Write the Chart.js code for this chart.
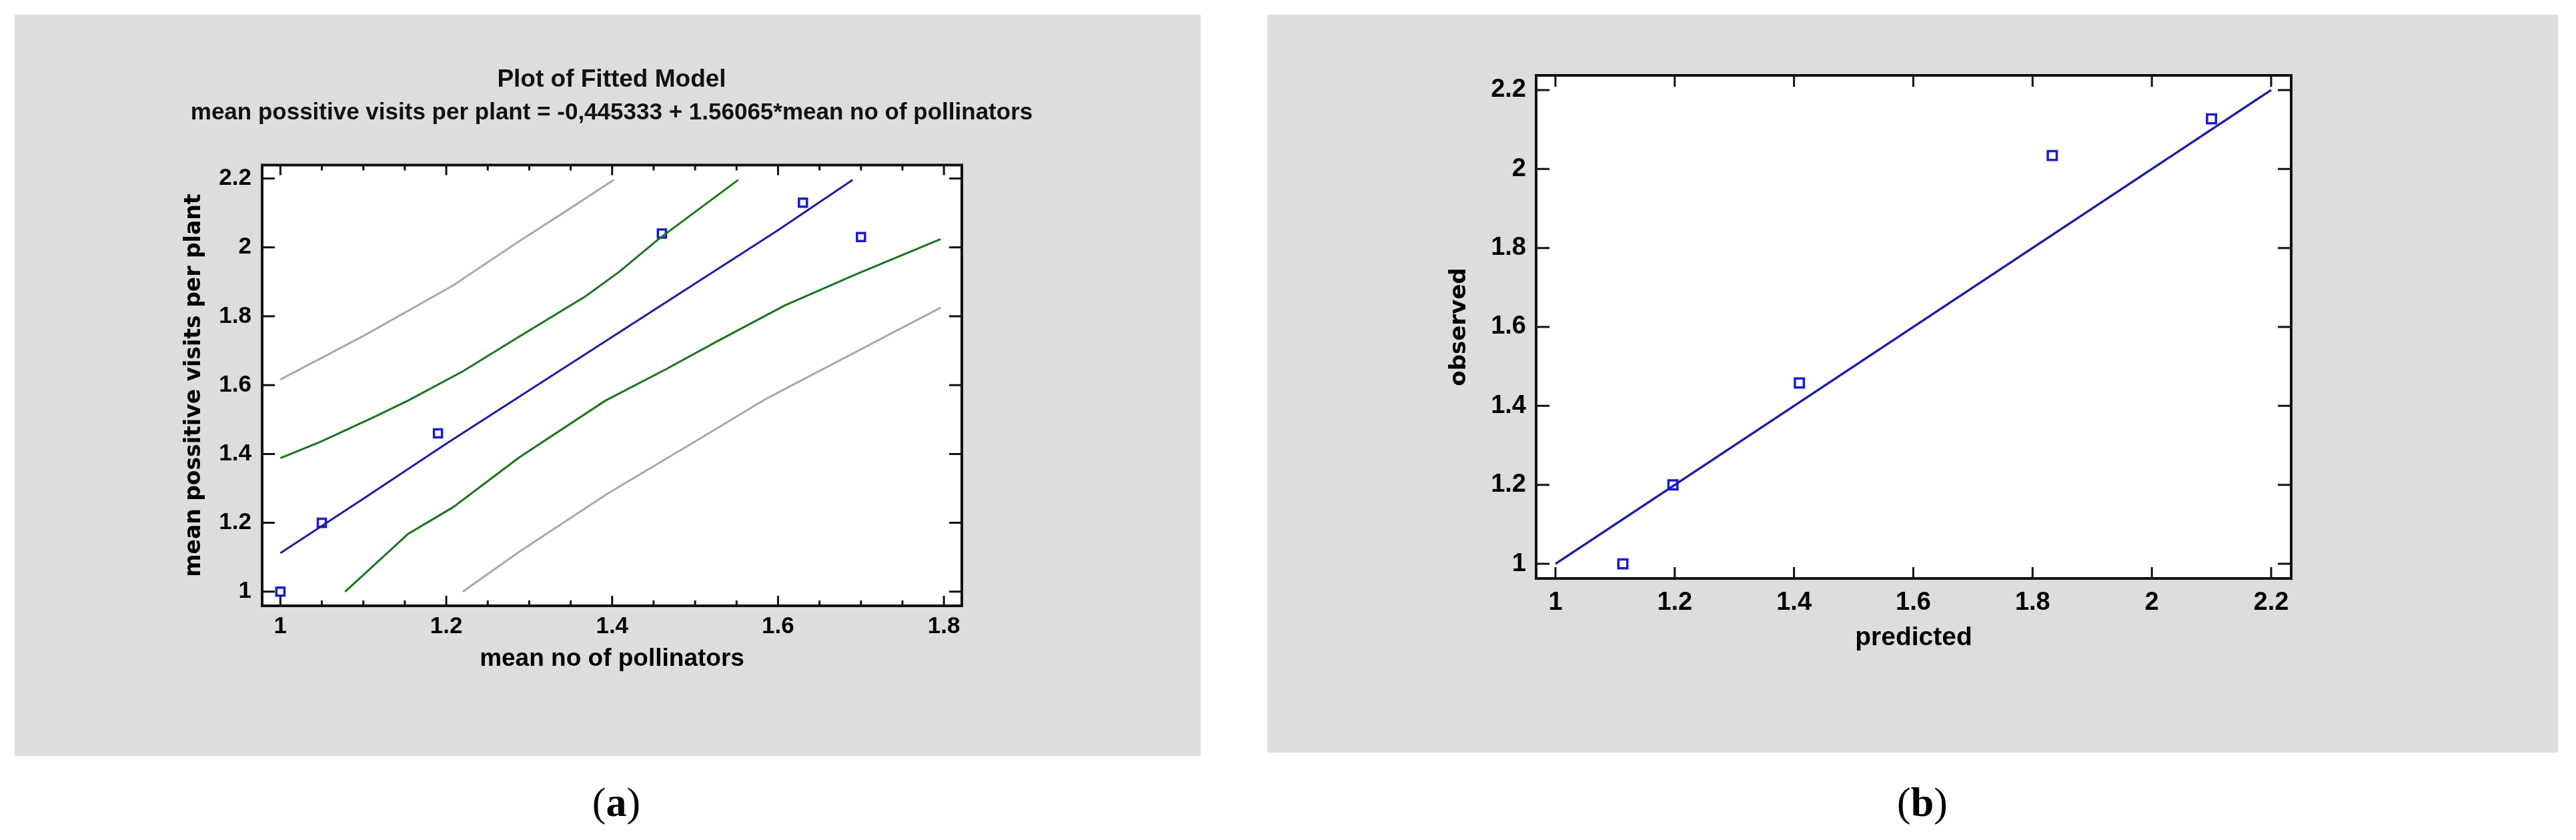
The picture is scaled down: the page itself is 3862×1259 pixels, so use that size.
<!DOCTYPE html>
<html>
<head>
<meta charset="utf-8">
<script src="https://cdn.jsdelivr.net/npm/chart.js@4.4.1/dist/chart.umd.min.js"></script>
<style>
    html, body { margin: 0; padding: 0; background: #fff; }
    body { width: 3862px; height: 1259px; position: relative; overflow: hidden; }
    .panel { position: absolute; background: #dddddd; }
    #panelA { left: 22px; top: 22px; width: 1778px; height: 1111px; }
    #panelB { left: 1900px; top: 22px; width: 1935px; height: 1106px; }
    .cap {
        position: absolute; top: 1168px; line-height: 68px;
        font-family: "Liberation Serif", serif; font-size: 62px; color: #000;
        transform: translateX(-50%);
    }
</style>
</head>
<body>
<div class="panel" id="panelA"><canvas id="chartA" width="1778" height="1111"></canvas></div>
<div class="panel" id="panelB"><canvas id="chartB" width="1935" height="1106"></canvas></div>
<div class="cap" style="left:924px">(<b>a</b>)</div>
<div class="cap" style="left:2882px">(<b>b</b>)</div>

<script>
// (a) observations
const pollinators = [1.0, 1.05, 1.19, 1.46, 1.63, 1.70];
const visits = [1.0, 1.2, 1.46, 2.04, 2.13, 2.03];

// (a) fitted line and limits
const fitX = [1.0, 1.1, 1.2, 1.3, 1.4, 1.5, 1.6, 1.69];
const fitY = [1.112, 1.27, 1.43, 1.585, 1.74, 1.895, 2.05, 2.196];
const confUpX = [1.0, 1.048, 1.112, 1.154, 1.22, 1.288, 1.368, 1.408, 1.456, 1.5, 1.552];
const confUpY = [1.388, 1.435, 1.506, 1.555, 1.64, 1.741, 1.858, 1.928, 2.024, 2.103, 2.196];
const confLoX = [1.078, 1.154, 1.208, 1.288, 1.392, 1.464, 1.528, 1.608, 1.694, 1.796];
const confLoY = [1.0, 1.168, 1.245, 1.39, 1.555, 1.645, 1.729, 1.831, 1.922, 2.024];
const predUpX = [1.0, 1.101, 1.208, 1.288, 1.341, 1.402];
const predUpY = [1.616, 1.744, 1.889, 2.018, 2.1, 2.196];
const predLoX = [1.22, 1.288, 1.394, 1.502, 1.584, 1.704, 1.796];
const predLoY = [1.0, 1.116, 1.284, 1.439, 1.558, 1.709, 1.825];

// (b) observed vs predicted
const predicted = [1.113, 1.197, 1.409, 1.833, 2.1];
const observed = [1.0, 1.2, 1.458, 2.034, 2.127];
const diagX = [1.0, 2.2];
const diagY = [1.0, 2.2];

// tick values
const xTicksA = [1, 1.2, 1.4, 1.6, 1.8];
const xMinorA = [1.05, 1.1, 1.15, 1.25, 1.3, 1.35, 1.45, 1.5, 1.55, 1.65, 1.7, 1.75];
const yTicksA = [1, 1.2, 1.4, 1.6, 1.8, 2, 2.2];
const xTicksB = [1, 1.2, 1.4, 1.6, 1.8, 2, 2.2];
const yTicksB = [1, 1.2, 1.4, 1.6, 1.8, 2, 2.2];

const zip = (xs, ys) => xs.map((x, i) => ({ x, y: ys[i] }));

Chart.defaults.font.family = '"Liberation Sans", Arial, sans-serif';
Chart.defaults.color = "#000";

// white plot area, black frame, ticks pointing inwards on all four sides
const framePlugin = {
    id: "frame",
    beforeDraw(chart) {
        const { ctx, chartArea: a } = chart;
        ctx.save();
        ctx.fillStyle = "#fff";
        ctx.fillRect(a.left, a.top, a.right - a.left, a.bottom - a.top);
        ctx.restore();
    },
    afterDraw(chart, args, opts) {
        const { ctx, chartArea: a } = chart;
        const x = chart.scales.x;
        const y = chart.scales.y;
        ctx.save();
        ctx.strokeStyle = "#111";
        ctx.lineWidth = opts.tickWidth;
        ctx.beginPath();
        for (const t of x.ticks) {
            const px = x.getPixelForValue(t.value);
            ctx.moveTo(px, a.bottom);
            ctx.lineTo(px, a.bottom - opts.xMajor);
            ctx.moveTo(px, a.top);
            ctx.lineTo(px, a.top + opts.xMajor);
        }
        for (const v of opts.minorX || []) {
            const px = x.getPixelForValue(v);
            ctx.moveTo(px, a.bottom);
            ctx.lineTo(px, a.bottom - opts.xMinor);
            ctx.moveTo(px, a.top);
            ctx.lineTo(px, a.top + opts.xMinor);
        }
        for (const t of y.ticks) {
            const py = y.getPixelForValue(t.value);
            ctx.moveTo(a.left, py);
            ctx.lineTo(a.left + opts.yMajor, py);
            ctx.moveTo(a.right, py);
            ctx.lineTo(a.right - opts.yMajor, py);
        }
        ctx.stroke();
        ctx.lineWidth = opts.frameWidth;
        ctx.strokeRect(a.left, a.top, a.right - a.left, a.bottom - a.top);
        ctx.restore();
    },
};

function fixedTicks(values) {
    return (scale) => {
        scale.ticks = values.map((v) => ({ value: v }));
    };
}

function lineSet(label, data, color, width) {
    return {
        label,
        data,
        showLine: true,
        borderColor: color,
        borderWidth: width,
        pointRadius: 0,
        tension: 0,
        fill: false,
    };
}

new Chart(document.getElementById("chartA"), {
    type: "scatter",
    data: {
        datasets: [
            lineSet("lower prediction limit", zip(predLoX, predLoY), "#a9a9a9", 3),
            lineSet("upper prediction limit", zip(predUpX, predUpY), "#a9a9a9", 3),
            lineSet("lower confidence limit", zip(confLoX, confLoY), "#1b741b", 3),
            lineSet("upper confidence limit", zip(confUpX, confUpY), "#1b741b", 3),
            lineSet("fitted model", zip(fitX, fitY), "#1c1ca6", 3),
            {
                label: "observations",
                data: zip(pollinators, visits),
                pointStyle: "rect",
                pointRadius: 8.5,
                borderWidth: 3.5,
                borderColor: "#1a1ad0",
                backgroundColor: "rgba(0,0,0,0)",
            },
        ],
    },
    options: {
        responsive: false,
        animation: false,
        // a blank right-hand axis as wide as the margin keeps the titles centred over the plot
        layout: { padding: { left: 220, right: 208, top: 0, bottom: 0 } },
        scales: {
            x: {
                type: "linear",
                min: 0.978,
                max: 1.8216,
                afterBuildTicks: fixedTicks(xTicksA),
                afterFit: (s) => { s.height = 225; },
                grid: { display: false, drawTicks: false },
                border: { display: false },
                ticks: {
                    padding: 10,
                    font: { size: 35, weight: "bold" },
                    callback: (v) => String(v),
                },
                title: {
                    display: true,
                    text: "mean no of pollinators",
                    font: { size: 37, weight: "bold" },
                    padding: { top: 0, bottom: 123 },
                },
            },
            y: {
                type: "linear",
                min: 0.959,
                max: 2.239,
                afterBuildTicks: fixedTicks(yTicksA),
                afterFit: (s) => { s.width = 151; },
                grid: { display: false, drawTicks: false },
                border: { display: false },
                ticks: {
                    padding: 16,
                    font: { size: 35, weight: "bold" },
                    callback: (v) => String(v),
                },
                title: {
                    display: true,
                    text: "mean possitive visits per plant",
                    font: { family: '"DejaVu Sans", sans-serif', size: 33, weight: "bold" },
                    padding: { top: 30, bottom: 0 },
                },
            },
            yRight: {
                type: "linear",
                position: "right",
                afterFit: (s) => { s.width = 150; },
                grid: { display: false, drawTicks: false },
                border: { display: false },
                ticks: { display: false },
            },
        },
        plugins: {
            legend: { display: false },
            tooltip: { enabled: false },
            title: {
                display: true,
                text: "Plot of Fitted Model",
                color: "#111",
                font: { size: 37, weight: "bold", lineHeight: 1.2 },
                padding: { top: 76, bottom: 0 },
            },
            subtitle: {
                display: true,
                text: "mean possitive visits per plant = -0,445333 + 1.56065*mean no of pollinators",
                color: "#111",
                font: { size: 35, weight: "bold", lineHeight: 1.2 },
                padding: { top: 6, bottom: 57 },
            },
            frame: { tickWidth: 3, frameWidth: 4, xMajor: 15, xMinor: 8, yMajor: 19, minorX: xMinorA },
        },
    },
    plugins: [framePlugin],
});

new Chart(document.getElementById("chartB"), {
    type: "scatter",
    data: {
        datasets: [
            lineSet("observed = predicted", zip(diagX, diagY), "#1c1ca6", 3.5),
            {
                label: "observed vs predicted",
                data: zip(predicted, observed),
                pointStyle: "rect",
                pointRadius: 9.5,
                borderWidth: 3.5,
                borderColor: "#1a1ad0",
                backgroundColor: "rgba(0,0,0,0)",
            },
        ],
    },
    options: {
        responsive: false,
        animation: false,
        layout: { padding: { left: 0, right: 400, top: 91, bottom: 0 } },
        scales: {
            x: {
                type: "linear",
                min: 0.9676,
                max: 2.2336,
                afterBuildTicks: fixedTicks(xTicksB),
                afterFit: (s) => { s.height = 261; },
                grid: { display: false, drawTicks: false },
                border: { display: false },
                ticks: {
                    padding: 14,
                    font: { size: 38, weight: "bold" },
                    callback: (v) => String(v),
                },
                title: {
                    display: true,
                    text: "predicted",
                    font: { size: 39, weight: "bold" },
                    padding: { top: 0, bottom: 148 },
                },
            },
            y: {
                type: "linear",
                min: 0.963,
                max: 2.237,
                afterBuildTicks: fixedTicks(yTicksB),
                afterFit: (s) => { s.width = 403; },
                grid: { display: false, drawTicks: false },
                border: { display: false },
                ticks: {
                    padding: 15,
                    font: { size: 38, weight: "bold" },
                    callback: (v) => String(v),
                },
                title: {
                    display: true,
                    text: "observed",
                    font: { family: '"DejaVu Sans", sans-serif', size: 34, weight: "bold" },
                    padding: { top: 268, bottom: 0 },
                },
            },
        },
        plugins: {
            legend: { display: false },
            tooltip: { enabled: false },
            frame: { tickWidth: 3, frameWidth: 4, xMajor: 17, xMinor: 0, yMajor: 20, minorX: [] },
        },
    },
    plugins: [framePlugin],
});
</script>
</body>
</html>
